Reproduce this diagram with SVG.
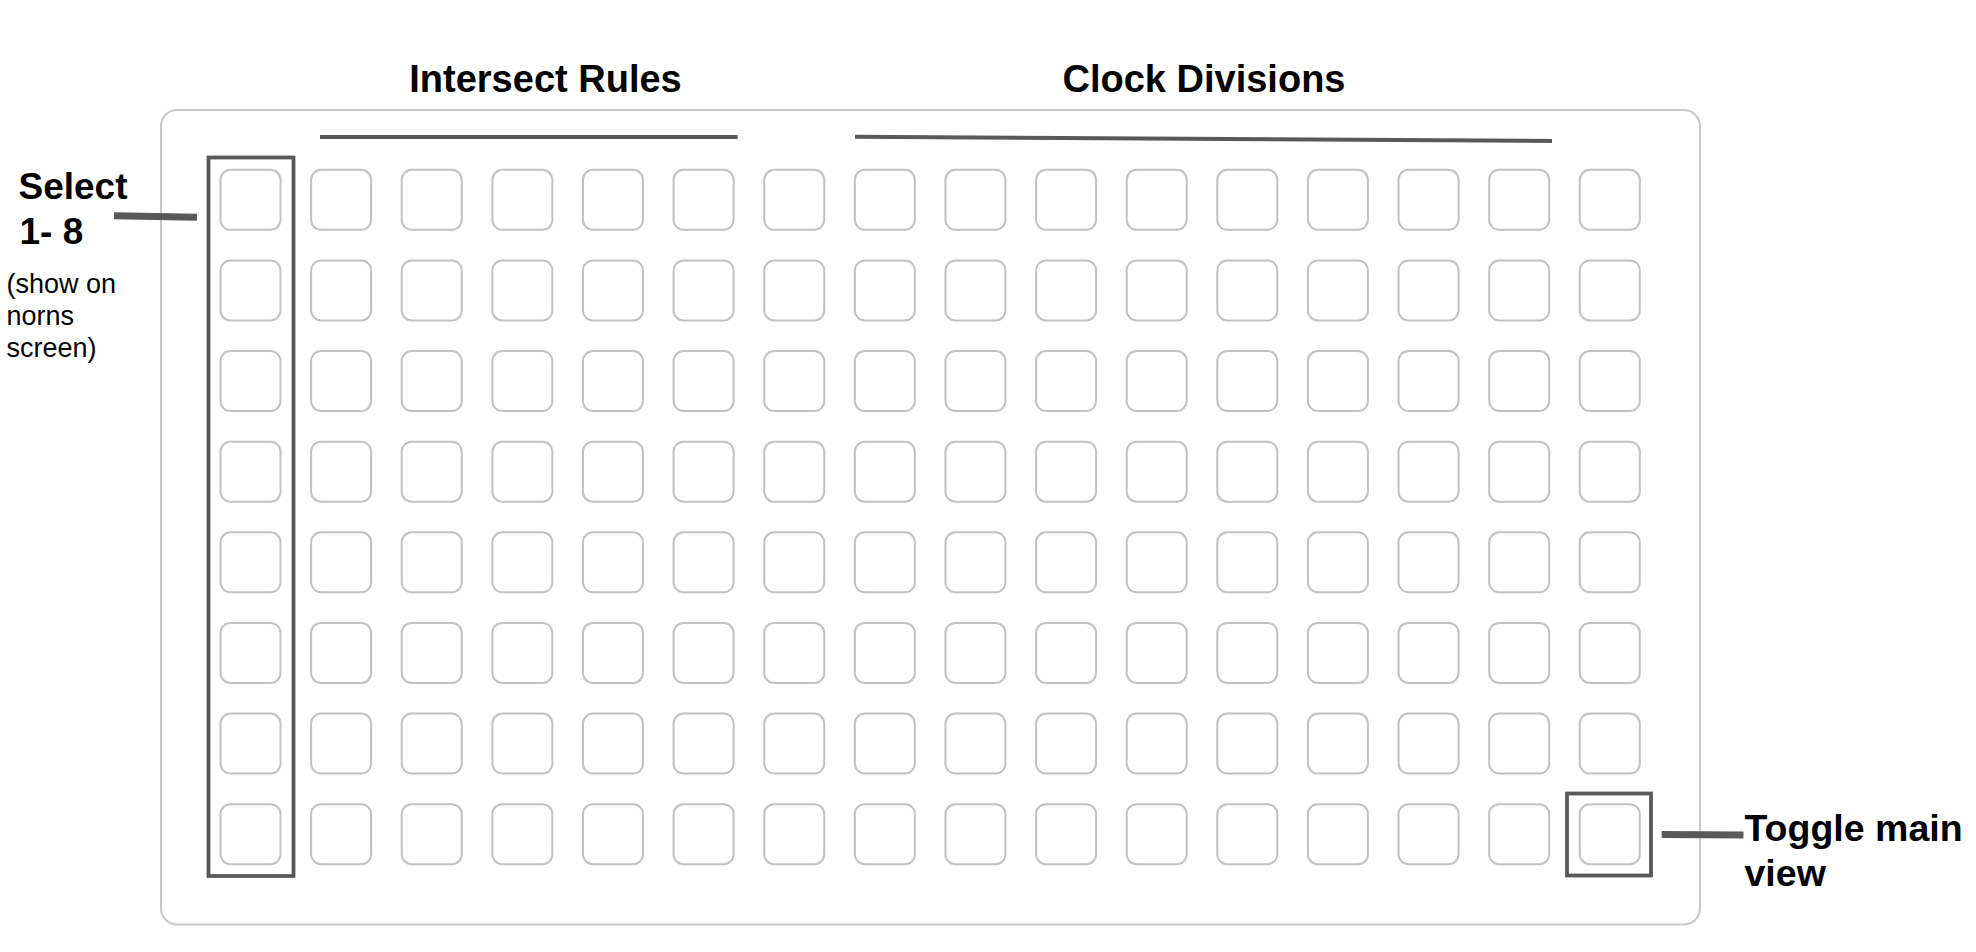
<svg xmlns="http://www.w3.org/2000/svg" xmlns:xlink="http://www.w3.org/1999/xlink" width="1976" height="952" viewBox="0 0 1976 952">
<style>
.cell{fill:#fff;stroke:#c2c2c2;stroke-width:2}
.hl{fill:none;stroke:#595959;stroke-width:3.8}
.conn{stroke:#595959;fill:none}
.b{font-family:"Liberation Sans",Arial,sans-serif;font-weight:bold;fill:#000}
.r{font-family:"Liberation Sans",Arial,sans-serif;fill:#000}
</style>
<defs>
<rect id="c" class="cell" width="60" height="60" rx="10"/>
<g id="row">
<use xlink:href="#c" x="220.5"/><use xlink:href="#c" x="311.12"/><use xlink:href="#c" x="401.74"/><use xlink:href="#c" x="492.36"/>
<use xlink:href="#c" x="582.98"/><use xlink:href="#c" x="673.6"/><use xlink:href="#c" x="764.22"/><use xlink:href="#c" x="854.84"/>
<use xlink:href="#c" x="945.46"/><use xlink:href="#c" x="1036.08"/><use xlink:href="#c" x="1126.7"/><use xlink:href="#c" x="1217.32"/>
<use xlink:href="#c" x="1307.94"/><use xlink:href="#c" x="1398.56"/><use xlink:href="#c" x="1489.18"/><use xlink:href="#c" x="1579.8"/>
</g>
</defs>
<rect width="1976" height="952" fill="#fff"/>
<g id="board">
<rect x="161" y="110" width="1539" height="814.5" rx="16" fill="#fff" stroke="#c8c8c8" stroke-width="2"/>
</g>
<g id="grid">
<use xlink:href="#row" y="169.8"/>
<use xlink:href="#row" y="260.42"/>
<use xlink:href="#row" y="351.04"/>
<use xlink:href="#row" y="441.66"/>
<use xlink:href="#row" y="532.28"/>
<use xlink:href="#row" y="622.9"/>
<use xlink:href="#row" y="713.52"/>
<use xlink:href="#row" y="804.14"/>
</g>
<g id="select-column">
<rect class="hl" x="208.5" y="157.5" width="85" height="718.5"/>
</g>
<g id="toggle-button">
<rect class="hl" x="1567" y="793.5" width="84" height="82"/>
</g>
<g id="title-intersect">
<text class="b" x="545.5" y="92.3" font-size="38" text-anchor="middle">Intersect Rules</text>
</g>
<g id="title-clock">
<text class="b" x="1204" y="92.3" font-size="38" text-anchor="middle">Clock Divisions</text>
</g>
<g id="label-select">
<text class="b" x="18.5" y="199.3" font-size="37">Select</text>
<text class="b" x="19.5" y="244.3" font-size="37">1- 8</text>
<text class="r" x="6.5" y="292.5" font-size="27">(show on</text>
<text class="r" x="6.5" y="324.8" font-size="27">norns</text>
<text class="r" x="6.5" y="357" font-size="27">screen)</text>
</g>
<g id="label-toggle">
<text class="b" x="1744.5" y="840.5" font-size="37.5">Toggle main</text>
<text class="b" x="1744.5" y="885.5" font-size="37.5">view</text>
</g>
<g id="connectors">
<line class="conn" x1="320" y1="137" x2="737.7" y2="137" stroke-width="4"/>
<line class="conn" x1="855" y1="136.7" x2="1552" y2="141" stroke-width="4"/>
<line class="conn" x1="114" y1="215.8" x2="197" y2="217.3" stroke-width="7"/>
<line class="conn" x1="1661.7" y1="834.5" x2="1743.5" y2="835" stroke-width="7"/>
</g>
</svg>
